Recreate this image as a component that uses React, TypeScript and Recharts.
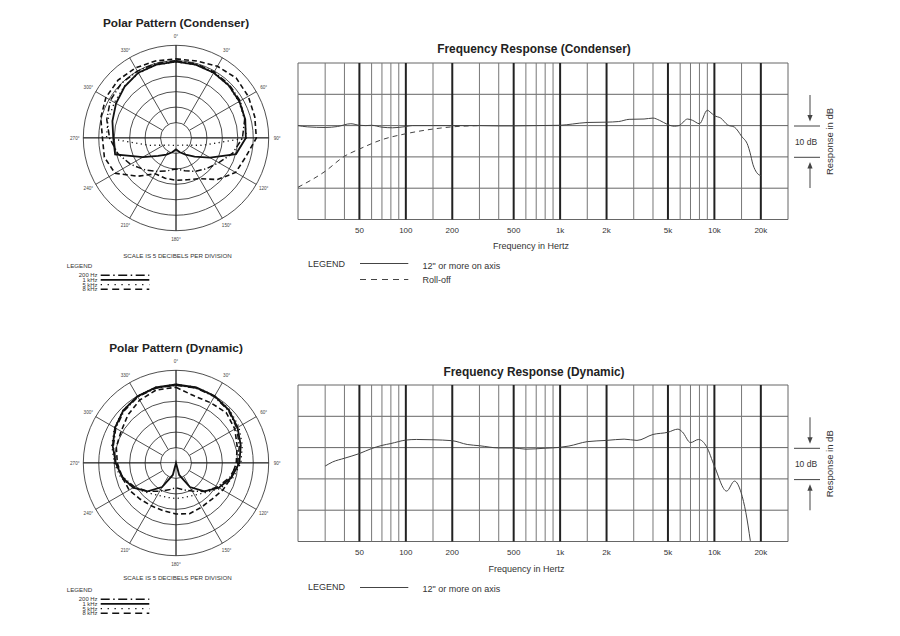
import React from 'react';
import {
  LineChart,
  Line,
  XAxis,
  YAxis,
  ReferenceLine,
  RadarChart,
  Radar,
  PolarGrid,
  PolarAngleAxis,
  PolarRadiusAxis,
} from 'recharts';

const FONT = '"Liberation Sans", Arial, Helvetica, sans-serif';

// ---- polar patterns: dB at each angle (15° steps, clockwise from on-axis)
const ANGLES = [0, 15, 30, 45, 60, 75, 90, 105, 120, 135, 150, 165, 180, 195, 210, 225, 240, 255, 270, 285, 300, 315, 330, 345];
const RINGS = [-25, -20, -15, -10, -5, 0];
const SPOKES = [0, 30, 60, 90, 120, 150, 180, 210, 240, 270, 300, 330];

const COND_200 = [-5, -5.1, -5.3, -5.6, -6, -7, -8.5, -11, -14, -16, -17.5, -19, -20, -19, -17.5, -15.5, -13, -10.5, -8.5, -6.8, -5.5, -5, -5, -5];
const COND_1K = [-5.3, -5.4, -5.6, -5.9, -6.3, -6.8, -7.4, -9.9, -17.3, -21.5, -23.8, -25.2, -26.3, -25.2, -23.8, -21.8, -17.6, -9.6, -9.7, -8.7, -7.6, -6.5, -5.6, -5.4];
const COND_5K = [-5.4, -5.5, -5.7, -6, -6.5, -7, -7.2, -20.9, -25.3, -26.7, -27.3, -27.5, -27.6, -27.5, -27.3, -26.7, -25.3, -20.9, -7.5, -7.2, -7, -6.3, -5.8, -5.5];
const COND_8K = [-4.4, -4.2, -3.2, -2.5, -3, -3.6, -4, -6.6, -7.7, -11, -14.8, -16, -16.3, -16.5, -16.6, -12.5, -7.2, -6, -6.2, -4.8, -3.8, -3.5, -3.8, -4.2];

const DYN_200 = [-4.8, -4.9, -5.2, -6, -7.3, -8.8, -10, -12, -14.5, -17, -19.5, -21, -22, -21, -19.5, -17, -14.5, -12.2, -10.5, -9, -7.5, -6.2, -5.3, -4.9];
const DYN_1K = [-4.6, -4.7, -5, -5.8, -7, -8.3, -9.5, -11.5, -14, -17, -21, -26, -30, -26, -21, -17, -14, -12, -10.5, -8.8, -7.2, -5.9, -5.1, -4.7];
const DYN_5K = [-4.5, -4.6, -4.9, -5.5, -6.5, -7.8, -9, -11, -13.5, -16.5, -18, -18.5, -18.5, -18.5, -18, -16.5, -14, -11.5, -10, -8.5, -7, -5.8, -5, -4.6];
const DYN_8K = [-5.5, -7.5, -7.5, -7, -8, -9.5, -10.5, -11.5, -12.5, -13.5, -13.5, -13, -13.5, -14, -14, -13.5, -12.5, -12, -11, -10, -9.5, -8, -6.5, -5.5];

// ---- frequency response
const FREQ_TICKS = [50, 100, 200, 500, 1000, 2000, 5000, 10000, 20000];
const FREQ_MINOR = [30, 40, 60, 70, 80, 90, 150, 300, 400, 600, 700, 800, 900, 1500, 3000, 4000, 6000, 7000, 8000, 9000, 15000];
const FREQ_EDGES = [20, 30000];
const DB_LINES = [-30, -20, -10, 0, 10, 20];

const COND_F = [20, 23, 30, 36, 44, 50, 55, 60, 70, 82, 100, 110, 150, 200, 300, 400, 500, 700, 1000, 1200, 1500, 2000, 2400, 2800, 3500, 4000, 4400, 5000, 5500, 5900, 6700, 7200, 8000, 9000, 9500, 10000, 11000, 12200, 13500, 15000, 16500, 17000, 17800, 18800, 20000];
const COND_DB = [0, -0.4, -0.6, -0.3, 0.6, 0.1, 0, 0.1, -0.5, -0.7, -0.3, 0, 0, 0, 0, -0.1, -0.1, 0, 0.1, 0.5, 1, 1.1, 1.3, 2, 2.1, 2.4, 1.7, 0.3, -0.2, 0, 2.1, 1.7, 0.6, 4.9, 4.1, 3.2, 2.4, 0.2, -0.5, -3.4, -6.4, -8.5, -12.5, -15, -16];
const ROLL_F = [20, 30, 40, 50, 70, 100, 150, 200, 300];
const ROLL_DB = [-19.7, -14.6, -9.8, -7.5, -4.5, -2.6, -1.1, -0.4, 0];

const DYN_F = [30, 33.5, 40, 50, 60, 70, 80, 100, 117, 150, 200, 250, 300, 400, 500, 600, 800, 1000, 1140, 1500, 2000, 2600, 3150, 4000, 5000, 5800, 6200, 7000, 7900, 8900, 10000, 12000, 13500, 14900, 16000, 17100];
const DYN_DB = [-5.9, -4.6, -3.4, -1.9, -0.3, 0.7, 1.3, 2.4, 2.6, 2.5, 2.2, 1, 0.6, -0.1, -0.1, -0.5, -0.2, 0.1, 0.5, 1.9, 2.3, 2.7, 2.3, 4.2, 4.9, 5.9, 5, 1.6, 2.6, 0.3, -5.9, -13.9, -10.7, -14.4, -20.8, -29.8];

const fmtHz = (v: number) => (v >= 1000 ? `${v / 1000}k` : `${v}`);

const toRows = (a: number[], b: number[], c: number[], d: number[]) =>
  ANGLES.map((angle, i) => ({ angle, hz200: a[i], k1: b[i], k5: c[i], k8: d[i] }));

const toPoints = (f: number[], db: number[]) => f.map((x, i) => ({ f: x, db: db[i] }));

const OUTER = 92.7;

const AngleTick = (props: any) => {
  const { x, y, payload } = props;
  const v = payload?.value;
  if (v % 30 !== 0) return null;
  const dx = x - 120;
  const dy = y - 120;
  const len = Math.sqrt(dx * dx + dy * dy) || 1;
  const r = OUTER + 8.5;
  return (
    <text
      x={120 + (dx / len) * r}
      y={120 + (dy / len) * r}
      textAnchor="middle"
      dominantBaseline="central"
      fontSize={4.6}
      fontFamily={FONT}
      fill="#444"
    >
      {`${v}°`}
    </text>
  );
};

function PolarPattern({ rows, cy }: { rows: any[]; cy: number }) {
  return (
    <div style={{ position: 'absolute', left: 56, top: cy - 120 }}>
      <RadarChart
        width={240}
        height={240}
        cx={120}
        cy={120}
        innerRadius={15.45}
        outerRadius={OUTER}
        data={rows}
        margin={{ top: 0, right: 0, bottom: 0, left: 0 }}
      >
        <PolarGrid gridType="circle" polarAngles={SPOKES} stroke="#222" strokeWidth={0.8} />
        <PolarAngleAxis dataKey="angle" tick={AngleTick} tickLine={false} axisLine={false} tickSize={6} />
        <PolarRadiusAxis
          type="number"
          domain={[-25, 0]}
          ticks={RINGS}
          tickCount={6}
          allowDataOverflow
          tick={false}
          axisLine={false}
        />
        <Radar dataKey="k8" stroke="#111" strokeWidth={1.6} strokeDasharray="5 3" fill="none" fillOpacity={0} dot={false} isAnimationActive={false} />
        <Radar dataKey="hz200" stroke="#111" strokeWidth={1.5} strokeDasharray="6 2.5 1.2 2.5" fill="none" fillOpacity={0} dot={false} isAnimationActive={false} />
        <Radar dataKey="k5" stroke="#111" strokeWidth={1.3} strokeDasharray="1.2 3.4" fill="none" fillOpacity={0} dot={false} isAnimationActive={false} />
        <Radar dataKey="k1" stroke="#111" strokeWidth={1.8} fill="none" fillOpacity={0} dot={false} isAnimationActive={false} />
      </RadarChart>
    </div>
  );
}

function FreqResponse({ top, lines }: { top: number; lines: { pts: any[]; dash?: string }[] }) {
  return (
    <div style={{ position: 'absolute', left: 288, top: top - 10 }}>
      <LineChart width={510} height={196.5} margin={{ top: 10, right: 10, bottom: 0, left: 10 }}>
        <XAxis
          dataKey="f"
          type="number"
          scale="log"
          domain={[20, 30000]}
          allowDataOverflow
          ticks={FREQ_TICKS}
          interval={0}
          tickFormatter={fmtHz}
          axisLine={false}
          tickLine={false}
          height={30}
          tick={{ fontSize: 8, fill: '#333', fontFamily: FONT }}
        />
        <YAxis type="number" domain={[-30, 20]} allowDataOverflow hide />
        {DB_LINES.map((d) => (
          <ReferenceLine key={`h${d}`} y={d} stroke="#666" strokeWidth={1} />
        ))}
        {FREQ_MINOR.map((f) => (
          <ReferenceLine key={`m${f}`} x={f} stroke="#777" strokeWidth={1} />
        ))}
        {FREQ_EDGES.map((f) => (
          <ReferenceLine key={`e${f}`} x={f} stroke="#666" strokeWidth={1} />
        ))}
        {FREQ_TICKS.map((f) => (
          <ReferenceLine key={`b${f}`} x={f} stroke="#222" strokeWidth={2} />
        ))}
        {lines.map((l, i) => (
          <Line
            key={i}
            data={l.pts}
            dataKey="db"
            type="monotone"
            stroke="#444"
            strokeWidth={1}
            strokeDasharray={l.dash}
            dot={false}
            isAnimationActive={false}
          />
        ))}
      </LineChart>
    </div>
  );
}

function DbMarker({ y0 }: { y0: number }) {
  // y0 = pixel row of the 0 dB line
  return (
    <g stroke="#444" fill="#444">
      <line x1={794} x2={820} y1={y0} y2={y0} strokeWidth={1} />
      <line x1={794} x2={820} y1={y0 + 31.3} y2={y0 + 31.3} strokeWidth={1} />
      <line x1={810} x2={810} y1={y0 - 31} y2={y0 - 10} strokeWidth={1} />
      <polygon points={`${807.4},${y0 - 11} ${812.6},${y0 - 11} ${810},${y0 - 4.5}`} stroke="none" />
      <line x1={810} x2={810} y1={y0 + 62} y2={y0 + 42} strokeWidth={1} />
      <polygon points={`${807.4},${y0 + 42.5} ${812.6},${y0 + 42.5} ${810},${y0 + 36}`} stroke="none" />
      <text x={806} y={y0 + 15.5} textAnchor="middle" dominantBaseline="central" fontSize={8.5} stroke="none" fill="#333">
        10 dB
      </text>
      <text
        x={829.5}
        y={y0 + 15.5}
        transform={`rotate(-90 829.5 ${y0 + 15.5})`}
        textAnchor="middle"
        dominantBaseline="central"
        fontSize={9.5}
        stroke="none"
        fill="#333"
      >
        Response in dB
      </text>
    </g>
  );
}

function PolarLegend({ y }: { y: number }) {
  const rows = [
    { label: '200 Hz', dash: '9 3.5 1.5 3.5', w: 1.4 },
    { label: '1 kHz', dash: undefined, w: 1.8 },
    { label: '5 kHz', dash: '1.3 5.6', w: 1.3 },
    { label: '8 kHz', dash: '7 4.5', w: 1.4 },
  ];
  return (
    <g fontFamily={FONT} fill="#333">
      <text x={66.7} y={y} fontSize={6.2} dominantBaseline="central">
        LEGEND
      </text>
      {rows.map((r, i) => {
        const yy = y + 10.3 + i * 4.65;
        return (
          <g key={r.label}>
            <text x={97.5} y={yy} fontSize={5.9} textAnchor="end" dominantBaseline="central">
              {r.label}
            </text>
            <line x1={100.7} x2={149.3} y1={yy} y2={yy} stroke="#111" strokeWidth={r.w} strokeDasharray={r.dash} />
          </g>
        );
      })}
    </g>
  );
}

function PolarCross({ cy }: { cy: number }) {
  return (
    <g stroke="#222" strokeWidth={0.8}>
      <line x1={176 - OUTER} x2={176 + OUTER} y1={cy} y2={cy} />
      <line x1={176} x2={176} y1={cy - OUTER} y2={cy + OUTER} />
    </g>
  );
}

export default function App() {
  const condRows = toRows(COND_200, COND_1K, COND_5K, COND_8K);
  const dynRows = toRows(DYN_200, DYN_1K, DYN_5K, DYN_8K);
  return (
    <div style={{ position: 'absolute', left: 0, top: 0, width: 900, height: 636, background: '#fff', fontFamily: FONT }}>
      <svg width={900} height={636} style={{ position: 'absolute', left: 0, top: 0 }} fontFamily={FONT}>
        <PolarCross cy={137.7} />
        <PolarCross cy={462.7} />

        <text x={176} y={23} textAnchor="middle" dominantBaseline="central" fontSize={11.8} fontWeight="bold" fill="#222">
          Polar Pattern (Condenser)
        </text>
        <text x={176} y={348.3} textAnchor="middle" dominantBaseline="central" fontSize={11.8} fontWeight="bold" fill="#222">
          Polar Pattern (Dynamic)
        </text>
        <text x={177.5} y={255} textAnchor="middle" dominantBaseline="central" fontSize={6.2} fill="#333">
          SCALE IS 5 DECIBELS PER DIVISION
        </text>
        <text x={177.5} y={577.5} textAnchor="middle" dominantBaseline="central" fontSize={6.2} fill="#333">
          SCALE IS 5 DECIBELS PER DIVISION
        </text>
        <PolarLegend y={265} />
        <PolarLegend y={589} />

        <text x={534} y={49} textAnchor="middle" dominantBaseline="central" fontSize={11.9} fontWeight="bold" fill="#222">
          Frequency Response (Condenser)
        </text>
        <text x={534} y={371.7} textAnchor="middle" dominantBaseline="central" fontSize={11.9} fontWeight="bold" fill="#222">
          Frequency Response (Dynamic)
        </text>
        <text x={531} y={246} textAnchor="middle" dominantBaseline="central" fontSize={9} fill="#333">
          Frequency in Hertz
        </text>
        <text x={526.5} y={569.3} textAnchor="middle" dominantBaseline="central" fontSize={9} fill="#333">
          Frequency in Hertz
        </text>
        <DbMarker y0={126} />
        <DbMarker y0={448.3} />

        <g fill="#333" fontSize={9}>
          <text x={308} y={264} dominantBaseline="central">LEGEND</text>
          <line x1={360} x2={408.3} y1={263.5} y2={263.5} stroke="#444" strokeWidth={1} />
          <text x={422.5} y={265.5} dominantBaseline="central">{'12" or more on axis'}</text>
          <line x1={360} x2={408.3} y1={279.5} y2={279.5} stroke="#444" strokeWidth={1} strokeDasharray="6 5" />
          <text x={422.5} y={280} dominantBaseline="central">Roll-off</text>

          <text x={308} y={586.7} dominantBaseline="central">LEGEND</text>
          <line x1={360} x2={408.3} y1={587.5} y2={587.5} stroke="#444" strokeWidth={1} />
          <text x={422.5} y={589} dominantBaseline="central">{'12" or more on axis'}</text>
        </g>
      </svg>

      <PolarPattern rows={condRows} cy={137.7} />
      <PolarPattern rows={dynRows} cy={462.7} />

      <FreqResponse
        top={62.7}
        lines={[
          { pts: toPoints(ROLL_F, ROLL_DB), dash: '5 4' },
          { pts: toPoints(COND_F, COND_DB) },
        ]}
      />
      <FreqResponse top={385.2} lines={[{ pts: toPoints(DYN_F, DYN_DB) }]} />
    </div>
  );
}
